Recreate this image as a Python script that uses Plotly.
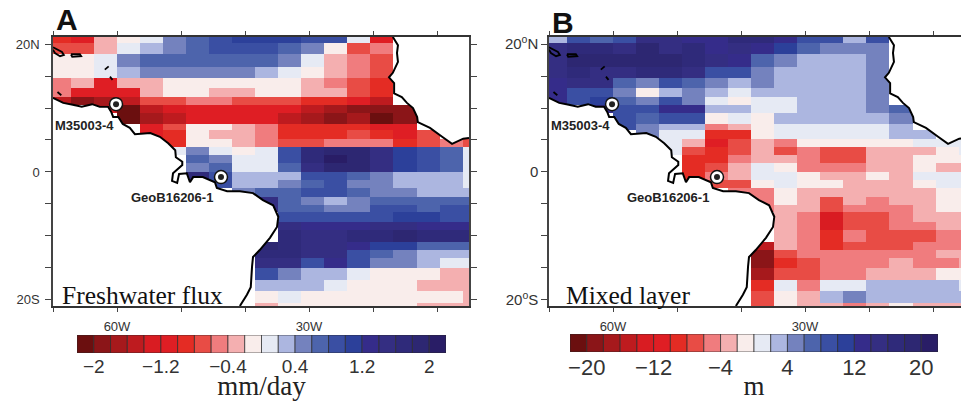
import plotly.graph_objects as go

N = None
W, H = 961, 401

# Grid cell edges (degrees)
lon_edges = [-70, -67.2, -63.6, -60, -56.4, -52.8, -49.2, -45.6, -42, -38.4, -34.8, -31.2,
             -27.6, -24, -20.4, -16.8, -13.2, -9.6, -6, -5]
lat_edges = [21.1, 20.2, 18.4, 16.4, 14.7, 13.1, 11.7, 10.5, 9.2, 7.5, 6.6, 5.2, 3.9, 2.7, 1.4, 0,
             -1.25, -2.5, -3.9, -5.2, -6.25, -7.8, -9.1, -10.9, -12.2, -13.4, -15, -16.9, -18.6,
             -20.5, -20.95]

# Freshwater flux, in tenths of mm/day, north to south
flux_rows = [
    [-9, -11, -3, -1, 1, 5, 7, 9, 11, 11, 11, 9, 9, 1, -11, N, N, N, N],
    [-7, -7, -3, 1, 3, 5, 7, 9, 9, 9, 7, 5, -1, -7, -5, N, N, N, N],
    [-1, -1, 1, 5, 7, 7, 7, 7, 7, 7, 5, 1, -3, -5, -7, N, N, N, N],
    [-1, -1, 1, 3, 5, 5, 5, 5, 5, 3, 1, -1, -3, -5, -7, N, N, N, N],
    [-5, -3, -11, -3, -3, -1, -1, -1, -1, -1, -1, -3, -5, -7, -9, N, N, N, N],
    [-5, -11, -11, -11, -3, -1, -1, -3, -3, -1, -1, -3, -3, -7, -9, N, N, N, N],
    [-15, -19, -17, -15, -7, -7, -5, -5, -7, -7, -7, -9, -9, -11, -15, N, N, N, N],
    [N, N, -13, -21, -15, -13, -11, -11, -11, -11, -11, -15, -17, -19, -19, -19, N, N, N],
    [N, N, N, -21, -17, -15, -11, -11, -11, -11, -15, -17, -19, -17, -21, -19, N, N, N],
    [N, N, N, N, -11, -7, -1, -1, -3, -5, -9, -9, -9, -9, -11, -11, N, N, N],
    [N, N, N, N, -11, -9, -1, -3, -3, -5, -9, -9, -9, -7, -9, -11, -7, N, N],
    [N, N, N, N, N, -9, -1, -1, -3, -5, -7, -7, -5, -5, -5, -9, -7, -5, -7],
    [N, N, N, N, N, 1, 5, 1, -1, 1, 9, 17, 19, 19, 15, 11, 9, 7, 1],
    [N, N, N, N, N, N, 7, 5, 1, 1, 9, 17, 21, 19, 15, 11, 9, 7, 1],
    [N, N, N, N, N, N, 5, 7, 1, 1, 7, 15, 19, 19, 15, 11, 9, 7, 1],
    [N, N, N, N, N, N, 17, 9, 3, 3, 3, 9, 9, 7, 5, 3, 3, 3, 1],
    [N, N, N, N, N, N, N, 9, 3, 3, 5, 7, 9, 5, 5, 3, 3, 3, 1],
    [N, N, N, N, N, N, N, N, 5, 7, 7, 9, 9, 7, 5, 5, 3, 3, 3],
    [N, N, N, N, N, N, N, N, N, 15, 7, 5, 3, 5, 7, 7, 7, 7, 7],
    [N, N, N, N, N, N, N, N, N, 15, 7, 7, 5, 5, 9, 9, 7, 9, 9],
    [N, N, N, N, N, N, N, N, N, N, 9, 9, 9, 9, 9, 11, 11, 9, 9],
    [N, N, N, N, N, N, N, N, N, N, 15, 13, 13, 13, 15, 15, 13, 13, 13],
    [N, N, N, N, N, N, N, N, N, N, 17, 15, 15, 17, 17, 19, 17, 17, 17],
    [N, N, N, N, N, N, N, N, N, 19, 17, 15, 15, 13, 11, 11, 7, 7, 7],
    [N, N, N, N, N, N, N, N, N, 17, 17, 15, 15, 9, 7, 5, 3, 3, 3],
    [N, N, N, N, N, N, N, N, N, 15, 15, 9, 13, 9, 5, 5, 3, 1, 1],
    [N, N, N, N, N, N, N, N, N, 9, 5, 3, 3, 1, -1, -1, -1, -3, -3],
    [N, N, N, N, N, N, N, N, N, 3, 3, 3, 1, -1, -1, -1, -3, -3, -3],
    [N, N, N, N, N, N, N, N, N, -1, 1, -1, -1, -1, -1, -1, -1, -1, -3],
    [N, N, N, N, N, N, N, N, N, -3, -1, -1, -1, -1, -1, -1, -3, -3, -3],
]

# Mixed layer change, in metres, north to south
mixed_rows = [
    [3, 9, 7, 9, 15, 15, 13, 13, 17, 17, 13, 9, 9, 3, 9, N, N, N, N],
    [15, 17, 17, 15, 19, 15, 17, 13, 15, 13, 11, 7, 5, 5, 5, N, N, N, N],
    [15, 19, 19, 19, 19, 19, 17, 15, 13, 7, 5, 3, 3, 3, 5, N, N, N, N],
    [15, 17, 15, 15, 17, 17, 15, 9, 9, 5, 3, 3, 3, 3, 5, N, N, N, N],
    [13, 15, 15, 7, 5, 9, 7, 5, 3, 5, 3, 3, 3, 3, 5, N, N, N, N],
    [13, 9, 9, 5, -1, 3, 5, 3, 1, 3, 3, 3, 3, 3, 5, N, N, N, N],
    [13, 9, 11, 7, 5, 9, 5, 1, -1, 1, 1, 3, 3, 3, 5, N, N, N, N],
    [N, N, 13, 9, 9, 13, 13, 3, 3, 1, 1, 3, 3, 3, 5, 7, N, N, N],
    [N, N, N, 9, 7, 9, 9, -1, 1, -1, 3, 3, 3, 3, 3, 5, N, N, N],
    [N, N, N, 9, 5, 3, 3, -5, -3, -1, 1, 1, 1, 1, 1, 3, N, N, N],
    [N, N, N, N, 5, 1, 1, -9, -9, -1, 1, 1, 1, 1, 1, 3, 3, N, N],
    [N, N, N, N, N, 1, -3, -11, -7, -3, -5, -1, -1, -1, -1, -1, 1, 1, 1],
    [N, N, N, N, N, 1, -7, -9, -7, -3, -7, -5, -7, -7, -3, -3, -3, -1, 1],
    [N, N, N, N, N, N, -9, -9, -5, -3, -3, -5, -7, -7, -3, -3, -1, -1, -1],
    [N, N, N, N, N, N, -9, -7, -3, 1, -1, -5, -5, -5, -3, -3, -1, -3, -3],
    [N, N, N, N, N, N, -9, -5, -3, 1, 1, -1, -3, -3, -1, -3, 1, 1, 1],
    [N, N, N, N, N, N, -9, -7, -7, -1, 1, -1, -1, -3, -3, -3, -1, 1, 1],
    [N, N, N, N, N, N, N, N, -5, -5, -1, -3, -3, -3, -3, -3, -3, -1, -1],
    [N, N, N, N, N, N, N, N, N, -5, -1, -3, -7, -3, -5, -3, -3, -1, -1],
    [N, N, N, N, N, N, N, N, N, -5, -3, -3, -7, -5, -5, -5, -3, -1, -1],
    [N, N, N, N, N, N, N, N, N, N, -3, -5, -13, -7, -7, -5, -3, -3, -3],
    [N, N, N, N, N, N, N, N, N, N, -3, -5, -13, -7, -7, -5, -5, -3, -3],
    [N, N, N, N, N, N, N, N, N, N, -3, -5, -9, -5, -7, -7, -7, -5, -5],
    [N, N, N, N, N, N, N, N, N, -15, -3, -5, -9, -7, -7, -7, -5, -5, -5],
    [N, N, N, N, N, N, N, N, N, -19, -7, -5, -5, -5, -5, -5, -5, -3, -3],
    [N, N, N, N, N, N, N, N, N, -19, -9, -7, -5, -5, -5, -3, -5, -5, -3],
    [N, N, N, N, N, N, N, N, N, -17, -7, -7, -5, -5, -3, -3, -3, -1, -1],
    [N, N, N, N, N, N, N, N, N, -9, 1, -5, 1, 1, 3, 3, 3, 3, 1],
    [N, N, N, N, N, N, N, N, N, -7, -1, -3, 3, 5, 3, 3, 3, 3, 3],
    [N, N, N, N, N, N, N, N, N, -7, -1, -3, -3, -5, -3, -1, -3, -3, -3],
]

colors = ["#6B0F0F", "#8B1518", "#A6191C", "#BE1B1F", "#D91C22", "#DF1E24", "#E42C24", "#E84C45",
          "#F07C7E", "#F4AFB0", "#F9EDEB", "#E6EAF4", "#ACB6E0", "#7482BE", "#4D64AC", "#3A4FA3",
          "#2C409A", "#352C8A", "#342E82", "#2F2A7A", "#2D2772", "#291D66"]

flux_levels = [-2.1, -1.9, -1.7, -1.5, -1.3, -1.1, -0.9, -0.7, -0.5, -0.3, -0.1,
               0.1, 0.3, 0.5, 0.7, 0.9, 1.1, 1.3, 1.5, 1.7, 1.9, 2.1]
mixed_levels = [-21, -19, -17, -15, -13, -11, -9, -7, -5, -3, -1,
                1, 3, 5, 7, 9, 11, 13, 15, 17, 19, 21]
flux_ticks = [-2, -1.2, -0.4, 0.4, 1.2, 2]
flux_ticktext = ["\u22122", "\u22121.2", "\u22120.4", "0.4", "1.2", "2"]
mixed_ticks = [-20, -12, -4, 4, 12, 20]
mixed_ticktext = ["\u221220", "\u221212", "\u22124", "4", "12", "20"]

# Coastlines (lon, lat)
sam_lon = [-70, -69.2, -68.4, -66.9, -65.5, -63.9, -62.7, -61.4, -60.9, -60.6, -59.8, -59.1, -58, -57.2,
           -54.8, -53.3, -52, -50.9, -50.8, -49.8, -49.8, -51.25, -51.4, -50.6, -50.3, -49.1, -48.6,
           -48.1, -46.6, -44.7, -44.4, -42.8, -40.8, -38.75, -37.2, -35.6, -34.8, -35, -36.1, -37.7,
           -38.75, -38.9, -39.1, -39.7, -40.8]
sam_lat = [11.6, 11.25, 10.8, 10.5, 10.2, 10.6, 10.2, 10.2, 9.4, 8.6, 8.6, 7.5, 6.9, 5.9, 6.1, 5.5, 4.5,
           3.4, 2.3, 1.6, 1.1, -0.2, -1.4, -1.7, -0.3, -0.2, -1.6, -0.8, -0.8, -1.6, -2.5, -3, -3, -3.3,
           -4.4, -5.2, -7, -8.6, -10.3, -12.2, -13.3, -14.8, -18, -19.2, -20.95]
afr_lon = [-16.9, -16.1, -16.25, -16.1, -16.9, -17.5, -16.7, -16.7, -15.5, -14.7, -13.75, -13.1, -13,
           -11.1, -9.2, -7.65, -5.9, -5]
afr_lat = [21.1, 19.8, 18.6, 17.2, 15.5, 14.8, 13.9, 12.3, 11.7, 10.8, 10, 8.6, 7.8, 6.9, 5.5, 4.4, 5.2, 5.3]
isl_lon = [-70, -69.2, -68.6, -68.3, -68.9, -69.7, -70, N, -67.2, -65.8, -65.6, -67, -67.2, N,
           -61.9, -61.3, N, -61.1, -60.7, N, -69.3, -68.7]
isl_lat = [19.5, 19.1, 18.75, 18.3, 18.1, 18.6, 19.1, N, 18.4, 18.4, 18.1, 18, 18.4, N,
           16.0, 16.5, N, 14.9, 14.4, N, 12.5, 12.0]

site_lon = [-60.15, -43.75]
site_lat = [10.6, -0.8]
site_names = ["M35003-4", "GeoB16206-1"]
site_label_lon = [-69.95, -58.05]
site_label_lat = [7.3, -4.05]

lon_ticks = [-70, -60, -50, -40, -30, -20, -10]
lon_ticktext = ["", "60W", "", "", "30W", "", ""]
lat_ticks = [20, 15, 10, 5, 0, -5, -10, -15, -20]
lat_ticktext_a = ["20N", "", "", "", "0", "", "", "", "20S"]
lat_ticktext_b = ["20<sup>o</sup>N", "", "", "", "0", "", "", "", "20<sup>o</sup>S"]

n = len(colors)
scale = []
for i, c in enumerate(colors):
    scale += [[i / n, c], [(i + 1) / n, c]]


def panel(fig, rows, xa, ya, zmul):
    fig.add_trace(go.Heatmap(
        z=[[None if v is None else v * zmul for v in r] for r in rows[::-1]],
        x=lon_edges, y=lat_edges[::-1], colorscale=scale,
        zmin=-22 * zmul, zmax=22 * zmul, showscale=False, xaxis=xa, yaxis=ya, hoverinfo="skip"))
    # land: white, clipping the grid
    fig.add_trace(go.Scatter(x=sam_lon + [-70, -70], y=sam_lat + [-20.95, 11.6], fill="toself",
                             fillcolor="white", mode="none", xaxis=xa, yaxis=ya, showlegend=False))
    fig.add_trace(go.Scatter(x=afr_lon + [-5, -16.9], y=afr_lat + [21.1, 21.1], fill="toself",
                             fillcolor="white", mode="none", xaxis=xa, yaxis=ya, showlegend=False))
    for lo, la, w in [(sam_lon, sam_lat, 2), (afr_lon, afr_lat, 2), (isl_lon, isl_lat, 1.8)]:
        fig.add_trace(go.Scatter(x=lo, y=la, mode="lines", line=dict(color="black", width=w),
                                 xaxis=xa, yaxis=ya, showlegend=False))
    fig.add_trace(go.Scatter(x=site_lon, y=site_lat, mode="markers",
                             marker=dict(size=13, color="white", line=dict(color="#111", width=1.5)),
                             xaxis=xa, yaxis=ya, showlegend=False))
    fig.add_trace(go.Scatter(x=site_lon, y=site_lat, mode="markers",
                             marker=dict(size=6, color="#222"), xaxis=xa, yaxis=ya, showlegend=False))


def key(fig, levels, xa, ya):
    fig.add_trace(go.Bar(x=levels, y=[1] * len(levels), width=levels[1] - levels[0],
                         marker=dict(color=colors, line=dict(color="#2a2a2a", width=0.7)),
                         xaxis=xa, yaxis=ya, showlegend=False))


fig = go.Figure()
panel(fig, flux_rows, "x", "y", 0.1)
panel(fig, mixed_rows, "x2", "y2", 1)
key(fig, flux_levels, "x3", "y3")
key(fig, mixed_levels, "x4", "y4")

sans = "Liberation Sans"
serif = "Liberation Serif"


def px_x(a, b):
    return [a / W, b / W]


def px_y(top, bot):
    return [1 - bot / H, 1 - top / H]


def map_x(dom, rng):
    return dict(domain=dom, range=rng, tickmode="array", tickvals=lon_ticks, ticktext=lon_ticktext,
                ticks="outside", ticklen=4, tickwidth=1, tickcolor="#444", showline=True, automargin=False,
                linecolor="#333", linewidth=1.5, mirror="ticks", showgrid=False, zeroline=False,
                tickfont=dict(family=sans, size=13, color="#333"), ticklabelstandoff=4)


def map_y(anchor, text, size, standoff):
    return dict(domain=px_y(37, 306), range=[-20.95, 21.1], anchor=anchor, tickmode="array", automargin=False,
                tickvals=lat_ticks, ticktext=text, ticks="outside", ticklen=6, tickwidth=1, tickcolor="#444",
                showline=True, linecolor="#444", linewidth=1.5, mirror="ticks", showgrid=False, zeroline=False,
                tickfont=dict(family=sans, size=size, color="#333"), ticklabelstandoff=standoff)


def key_x(dom, rng, ticks, text, size, title, anchor):
    return dict(domain=dom, range=rng, anchor=anchor, tickmode="array", tickvals=ticks, ticktext=text,
                ticks="", showline=False, showgrid=False, zeroline=False, automargin=False,
                tickfont=dict(family=sans, size=size, color="#333"),
                title=dict(text=title, standoff=2, font=dict(family=serif, size=27, color="#222")))


def key_y(anchor, top, bot):
    return dict(domain=px_y(top, bot), range=[0, 1], anchor=anchor, visible=False, automargin=False)


annotations = []
for xr, yr in [("x", "y"), ("x2", "y2")]:
    for name, lo, la in zip(site_names, site_label_lon, site_label_lat):
        annotations.append(dict(x=lo, y=la, xref=xr, yref=yr, text="<b>" + name + "</b>", showarrow=False,
                                xanchor="left", yanchor="middle",
                                font=dict(family=sans, size=13, color="#222")))
annotations += [
    dict(x=-68.95, y=-19.3, xref="x", yref="y", text="Freshwater flux", showarrow=False, xanchor="left",
         yanchor="middle", font=dict(family=serif, size=25.5, color="#111")),
    dict(x=-67.65, y=-19.3, xref="x2", yref="y2", text="Mixed layer", showarrow=False, xanchor="left",
         yanchor="middle", font=dict(family=serif, size=25.5, color="#111")),
    dict(x=53.5 / W, y=1 - 19 / H, xref="paper", yref="paper", text="<b>A</b>", showarrow=False, xanchor="left",
         yanchor="middle", font=dict(family=sans, size=30, color="#111")),
    dict(x=550 / W, y=1 - 22 / H, xref="paper", yref="paper", text="<b>B</b>", showarrow=False, xanchor="left",
         yanchor="middle", font=dict(family=sans, size=30, color="#111")),
]

fig.update_layout(
    width=W, height=H, margin=dict(l=0, r=0, t=0, b=0), paper_bgcolor="white", plot_bgcolor="white",
    showlegend=False, annotations=annotations, hovermode=False,
    xaxis=map_x(px_x(53, 469), [-70, -5]),
    yaxis=map_y("x", lat_ticktext_a, 13, 3),
    xaxis2=dict(map_x(px_x(549, 961), [-70, -5.625]), anchor="y2"),
    yaxis2=map_y("x2", lat_ticktext_b, 15, 0),
    xaxis3=key_x(px_x(77, 446), [-2.2, 2.2], flux_ticks, flux_ticktext, 19, "mm/day", "y3"),
    yaxis3=key_y("x3", 335, 353),
    xaxis4=key_x(px_x(570, 938), [-22, 22], mixed_ticks, mixed_ticktext, 22, "m", "y4"),
    yaxis4=key_y("x4", 334, 352),
)

fig.write_html("out.html", config=dict(displayModeBar=False),
               post_script="document.body.style.margin='0';document.body.style.overflow='hidden';")
